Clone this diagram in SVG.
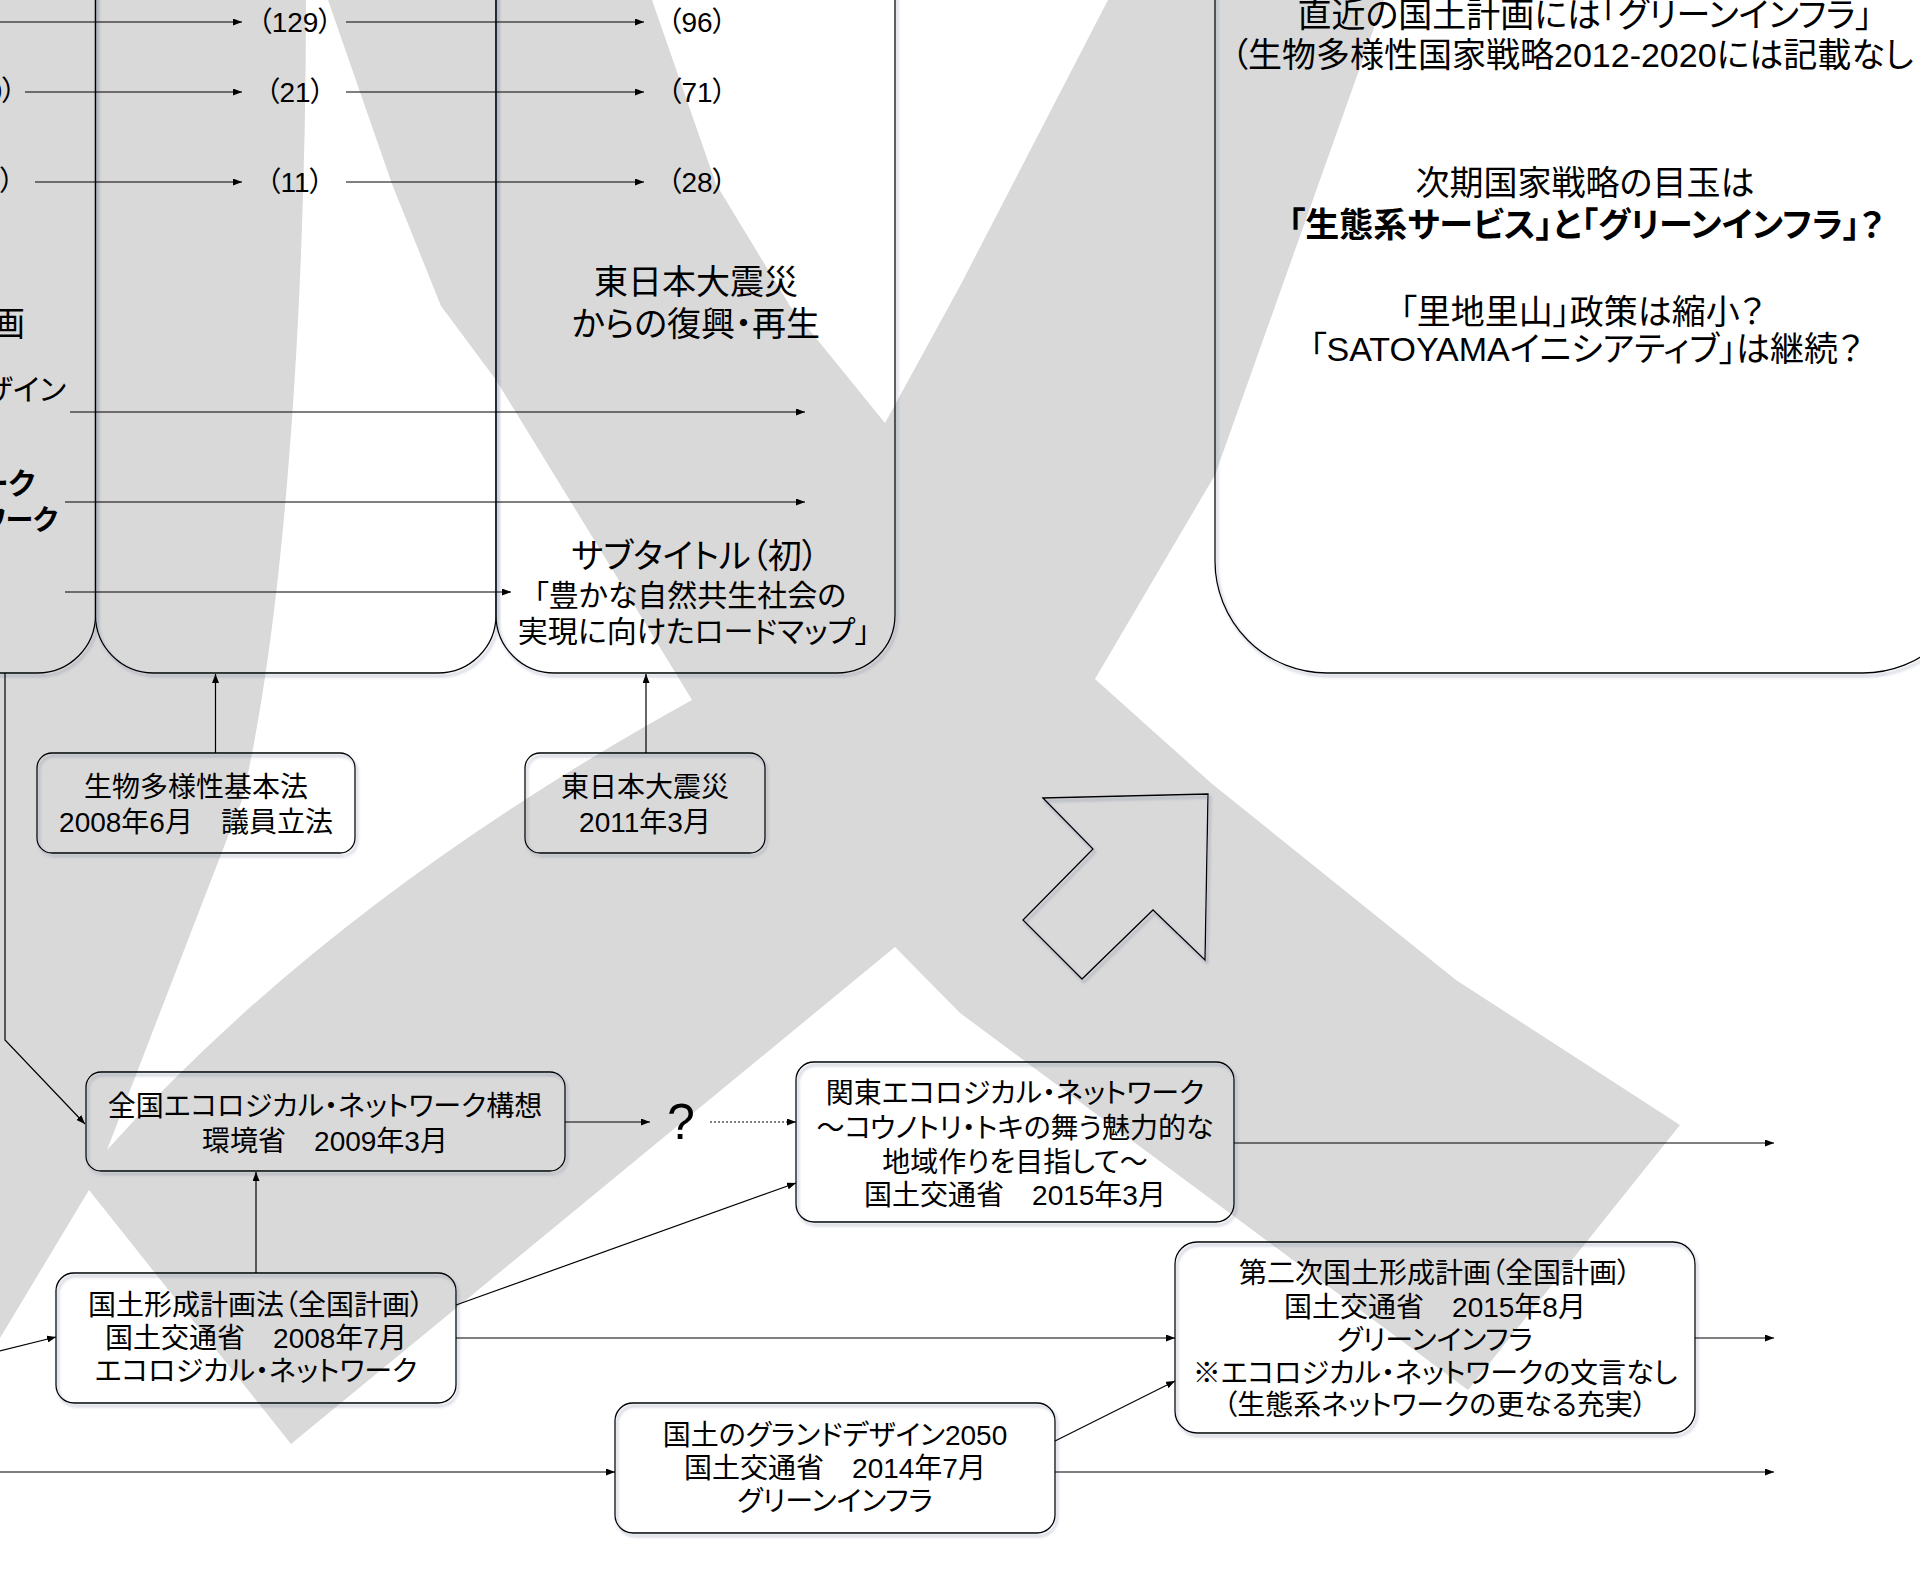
<svg xmlns="http://www.w3.org/2000/svg" width="1920" height="1583" viewBox="0 0 1920 1583">
<style>
.t{font-family:"Liberation Sans","Noto Sans CJK JP",sans-serif;font-feature-settings:"palt" 1;fill:#000}
.m{text-anchor:middle}
.e{text-anchor:end}
.n{font-size:28px}
.b{font-size:34px}
.s{font-size:30px}
.c{font-size:28px}
.bold{font-weight:bold}
.box{fill:none;stroke:#000;stroke-width:1.3;filter:url(#sh)}
.ln{fill:none;stroke:#000;stroke-width:1.2}
.arr{marker-end:url(#ah)}
</style>
<defs>
<marker id="ah" markerUnits="userSpaceOnUse" markerWidth="9" markerHeight="7" refX="9" refY="3.5" orient="auto">
<path d="M0,0 L9,3.5 L0,7 z" fill="#000"/>
</marker>
<filter id="sh" x="-5%" y="-5%" width="110%" height="115%">
<feDropShadow dx="2" dy="3" stdDeviation="1.5" flood-color="#6b7391" flood-opacity="0.55"/>
</filter>
</defs>
<rect width="1920" height="1583" fill="#fff"/>
<path id="watermark" fill="#d9d9d9" d="M0,0 L306,0 C306,300 285,620 242,800 L107,1150 Q330,900 692,700 L639,613 L496,380 L441,306 L392,184 L328,0 L652,0 L716,184 L790,306 L885,423 L960,286 L1108,0 L1384,0 L1215,475 L1095,679 L1211,783 L1456,980 L1680,1125 L1468,1390 L960,1013 L895,947 L291,1444 L89,1190 L0,1338 Z"/>

<g id="boxA"><rect class="box" x="-300" y="-100" width="395.5" height="773" rx="58" ry="58"/>
<text class="t c e" x="16" y="101">0）</text>
<text class="t c e" x="14" y="191">）</text>
<text class="t b e" x="25" y="336">画</text>
<text class="t s e" x="66" y="400">ザイン</text>
<text class="t s e bold" x="35" y="494">ーク</text>
<text class="t c e bold" x="58" y="530">ワーク</text>
</g>
<g id="boxB"><rect class="box" x="95.5" y="-100" width="400.5" height="773" rx="58" ry="58"/>
<text class="t c m" x="295" y="32">（129）</text>
<text class="t c m" x="295" y="102">（21）</text>
<text class="t c m" x="295" y="192">（11）</text>
</g>
<g id="boxC"><rect class="box" x="496" y="-100" width="399" height="773" rx="58" ry="58"/>
<text class="t c m" x="697" y="32">（96）</text>
<text class="t c m" x="697" y="102">（71）</text>
<text class="t c m" x="697" y="192">（28）</text>
<text class="t b m" x="696" y="294">東日本大震災</text>
<text class="t b m" x="696" y="336">からの復興・再生</text>
<text class="t b m" x="695" y="568">サブタイトル（初）</text>
<text class="t s m" x="690" y="606">「豊かな自然共生社会の</text>
<text class="t s m" x="694" y="642">実現に向けたロードマップ」</text>
</g>
<g id="boxD"><rect class="box" x="1215" y="-200" width="760" height="873" rx="112" ry="112"/>
<text class="t b m" x="1585" y="27">直近の国土計画には「グリーンインフラ」</text>
<text class="t b" x="1231" y="67">（生物多様性国家戦略2012-2020には記載なし</text>
<text class="t b m" x="1585" y="195">次期国家戦略の目玉は</text>
<text class="t b m bold" x="1586" y="237">「生態系サービス」と「グリーンインフラ」？</text>
<text class="t b m" x="1582" y="324">「里地里山」政策は縮小？</text>
<text class="t b m" x="1586" y="361">「SATOYAMAイニシアティブ」は継続？</text>
</g>

<g id="n1"><rect class="box" x="37" y="753" width="318" height="100" rx="15"/>
<text class="t n m" x="196" y="797">生物多様性基本法</text>
<text class="t n m" x="196" y="832">2008年6月　議員立法</text></g>
<g id="n2"><rect class="box" x="525" y="753" width="240" height="100" rx="15"/>
<text class="t n m" x="645" y="797">東日本大震災</text>
<text class="t n m" x="645" y="832">2011年3月</text></g>
<g id="n3"><rect class="box" x="86" y="1072" width="479" height="99" rx="15"/>
<text class="t n m" x="325" y="1116">全国エコロジカル・ネットワーク構想</text>
<text class="t n m" x="325" y="1151">環境省　2009年3月</text></g>
<g id="qmark"><text class="t" x="681" y="1139" font-size="50" text-anchor="middle">?</text></g>
<g id="n4"><rect class="box" x="796" y="1062" width="438" height="160" rx="18"/>
<text class="t n m" x="1015" y="1103">関東エコロジカル・ネットワーク</text>
<text class="t n m" x="1015" y="1138">～コウノトリ・トキの舞う魅力的な</text>
<text class="t n m" x="1015" y="1172">地域作りを目指して～</text>
<text class="t n m" x="1015" y="1205">国土交通省　2015年3月</text></g>
<g id="n5"><rect class="box" x="56" y="1273" width="400" height="130" rx="18"/>
<text class="t n m" x="256" y="1315">国土形成計画法（全国計画）</text>
<text class="t n m" x="256" y="1348">国土交通省　2008年7月</text>
<text class="t n m" x="256" y="1381">エコロジカル・ネットワーク</text></g>
<g id="n6"><rect class="box" x="615" y="1403" width="440" height="130" rx="18"/>
<text class="t n m" x="835" y="1445">国土のグランドデザイン2050</text>
<text class="t n m" x="835" y="1478">国土交通省　2014年7月</text>
<text class="t n m" x="835" y="1511">グリーンインフラ</text></g>
<g id="n7"><rect class="box" x="1175" y="1242" width="520" height="191" rx="22"/>
<text class="t n m" x="1435" y="1283">第二次国土形成計画（全国計画）</text>
<text class="t n m" x="1435" y="1317">国土交通省　2015年8月</text>
<text class="t n m" x="1435" y="1350">グリーンインフラ</text>
<text class="t n m" x="1435" y="1383">※エコロジカル・ネットワークの文言なし</text>
<text class="t n m" x="1435" y="1415">（生態系ネットワークの更なる充実）</text></g>
<g id="bigarrow"><polygon class="box" points="1043,798 1208,794 1205,960 1153,910 1082,979 1023,920 1093,849"/></g>

<g id="connectors">
<line class="ln arr" x1="-5" y1="22" x2="242" y2="22"/>
<line class="ln arr" x1="346" y1="22" x2="644" y2="22"/>
<line class="ln arr" x1="25" y1="92" x2="242" y2="92"/>
<line class="ln arr" x1="346" y1="92" x2="644" y2="92"/>
<line class="ln arr" x1="35" y1="182" x2="242" y2="182"/>
<line class="ln arr" x1="346" y1="182" x2="644" y2="182"/>
<line class="ln arr" x1="70" y1="412" x2="805" y2="412"/>
<line class="ln arr" x1="65" y1="502" x2="805" y2="502"/>
<line class="ln arr" x1="65" y1="592" x2="511" y2="592"/>
<line class="ln arr" x1="215.5" y1="753" x2="215.5" y2="674"/>
<line class="ln arr" x1="646" y1="753" x2="646" y2="674"/>
<path class="ln arr" d="M5,673 L5,1040 L85,1124"/>
<line class="ln arr" x1="565" y1="1122" x2="650" y2="1122"/>
<line class="ln arr" x1="710" y1="1122" x2="796" y2="1122" stroke-dasharray="2,2"/>
<line class="ln arr" x1="256" y1="1273" x2="256" y2="1172"/>
<line class="ln arr" x1="456" y1="1305" x2="796" y2="1183"/>
<line class="ln arr" x1="456" y1="1338" x2="1175" y2="1338"/>
<line class="ln arr" x1="-5" y1="1352" x2="56" y2="1337"/>
<line class="ln arr" x1="-5" y1="1472" x2="615" y2="1472"/>
<line class="ln arr" x1="1055" y1="1472" x2="1774" y2="1472"/>
<line class="ln arr" x1="1055" y1="1441" x2="1175" y2="1381"/>
<line class="ln arr" x1="1234" y1="1143" x2="1774" y2="1143"/>
<line class="ln arr" x1="1695" y1="1338" x2="1774" y2="1338"/>
</g>
</svg>
